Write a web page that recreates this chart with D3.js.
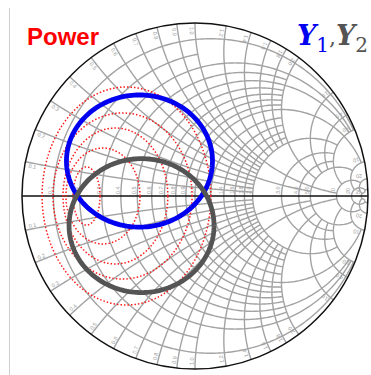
<!DOCTYPE html>
<html>
<head>
<meta charset="utf-8">
<script src="https://cdn.jsdelivr.net/npm/d3@7"></script>
<style>
  html, body { margin: 0; padding: 0; background: #fff; }
  svg { display: block; }
</style>
</head>
<body>
<svg id="chart" width="371" height="375"></svg>
<script>
// ---- Smith chart grid: labelled resistance / reactance values ----
const resistanceValues = [0.1, 0.2, 0.3, 0.4, 0.5, 0.6, 0.7, 0.8, 0.9, 1.0, 1.2, 1.4, 1.6, 1.8, 2.0, 3.0, 4.0, 5.0, 10, 20, 50];
// how far (in |x|) each resistance circle is drawn
const resistanceReach = [5, 1, 5, 2, 5, 2, 2, 2, 2, 10, 2, 2, 2, 2, 5, 5, 5, 10, 20, 50, 50];
const reactanceValues = [0.1, 0.2, 0.3, 0.4, 0.5, 0.6, 0.7, 0.8, 0.9, 1.0, 1.2, 1.4, 1.6, 1.8, 2.0, 3.0, 4.0, 5.0, 10, 20, 50];
// how far (in r) each reactance arc is drawn
const reactanceReach = [2, 2, 2, 2, 5, 2, 2, 2, 2, 10, 2, 2, 2, 2, 5, 5, 5, 10, 20, 50, 50];
const tickLabels = ["0.1", "0.2", "0.3", "0.4", "0.5", "0.6", "0.7", "0.8", "0.9", "1.0", "1.2", "1.4", "1.6", "1.8", "2.0", "3.0", "4.0", "5.0", "10", "20", "50"];

// ---- Power contours (ellipses in the reflection-coefficient plane) ----
const powerCenterX = [-0.396, -0.419, -0.460, -0.532, -0.627];
const powerCenterY = [0, 0, 0, 0, 0];
const powerRadiusX = [0.488, 0.402, 0.303, 0.214, 0.078];
const powerRadiusY = [0.630, 0.480, 0.393, 0.277, 0.168];

// ---- Y1 and Y2 loci ----
const locusNames = ["Y1", "Y2"];
const locusCenterX = [-0.321, -0.309];
const locusCenterY = [0.202, -0.171];
const locusRadiusX = [0.422, 0.419];
const locusRadiusY = [0.382, 0.387];

const W = 371, H = 375;
const cx = 195, cy = 196, R = 173;
const svg = d3.select("#chart");
svg.append("rect").attr("width", W).attr("height", H).attr("fill", "#fff");

const gx = d3.scaleLinear().domain([-1, 1]).range([cx - R, cx + R]);
const gy = d3.scaleLinear().domain([-1, 1]).range([cy + R, cy - R]);
const line = d3.line().x(d => gx(d[0])).y(d => gy(d[1]));

// z = r + jx  ->  Gamma = (z - 1) / (z + 1)
function gamma(r, x) {
  const den = (r + 1) * (r + 1) + x * x;
  return [((r - 1) * (r + 1) + x * x) / den, (2 * x) / den];
}
function sampleAtan(a, b, n) {
  const ta = Math.atan(a), tb = Math.atan(b);
  return d3.range(n + 1).map(i => Math.tan(ta + (tb - ta) * i / n));
}

const grid = svg.append("g").attr("fill", "none").attr("stroke", "#a3a3a3").attr("stroke-width", 1.4);

// constant-resistance circles (clipped at a reactance)
resistanceValues.forEach((r, i) => {
  const xm = resistanceReach[i];
  const pts = sampleAtan(-xm, xm, 300).map(x => gamma(r, x));
  grid.append("path").attr("d", line(pts));
});
// constant-reactance arcs (clipped at a resistance), both signs
reactanceValues.forEach((x, i) => {
  const rm = reactanceReach[i];
  [1, -1].forEach(s => {
    const pts = sampleAtan(0, rm, 300).map(r => gamma(r, s * x));
    grid.append("path").attr("d", line(pts));
  });
});

// tick labels along the real axis
const lab = svg.append("g").attr("font-family", "Liberation Sans, Arial, sans-serif")
  .attr("font-size", 5.5).attr("fill", "#9a9a9a");
resistanceValues.forEach((r, i) => {
  const p = gamma(r, 0);
  lab.append("text")
    .attr("transform", `translate(${gx(p[0]) - 1.2},${cy - 2}) rotate(-90)`)
    .attr("text-anchor", "start")
    .text(tickLabels[i]);
});
// tick labels along the rim
reactanceValues.forEach((x, i) => {
  if (x >= 50) return;
  [1, -1].forEach(s => {
    const th = Math.PI - 2 * Math.atan(x);
    const a = s * (th + 0.02);
    const rr = 0.955;
    const px = gx(rr * Math.cos(a)), py = gy(rr * Math.sin(a));
    const deg = -a * 180 / Math.PI;
    lab.append("text")
      .attr("transform", `translate(${px},${py}) rotate(${deg + 180})`)
      .attr("text-anchor", "middle")
      .attr("dy", "0.35em")
      .text(tickLabels[i]);
  });
});

// outer rim and real axis
svg.append("circle").attr("cx", gx(0)).attr("cy", gy(0)).attr("r", gx(1) - gx(0))
  .attr("fill", "none").attr("stroke", "#111").attr("stroke-width", 1.5);
svg.append("line").attr("x1", gx(-1)).attr("x2", gx(1)).attr("y1", gy(0)).attr("y2", gy(0))
  .attr("stroke", "#111").attr("stroke-width", 1.5);

function ellipsePts(ex, ey, rx, ry) {
  return d3.range(0, 361, 2).map(t => {
    const a = t * Math.PI / 180;
    return [ex + rx * Math.cos(a), ey + ry * Math.sin(a)];
  });
}

// power contours
const pw = svg.append("g").attr("fill", "none").attr("stroke", "#ff1a1a")
  .attr("stroke-width", 1.5).attr("stroke-dasharray", "1.5,2").attr("stroke-linecap", "butt");
powerCenterX.forEach((ex, i) => {
  pw.append("path").attr("d", line(ellipsePts(ex, powerCenterY[i], powerRadiusX[i], powerRadiusY[i])));
});

// Y loci
const locusColors = ["#0000f0", "#545454"];
locusNames.forEach((n, i) => {
  svg.append("path")
    .attr("d", line(ellipsePts(locusCenterX[i], locusCenterY[i], locusRadiusX[i], locusRadiusY[i])))
    .attr("fill", "none").attr("stroke", locusColors[i]).attr("stroke-width", 4.8);
});

// left border line
svg.append("line").attr("x1", 9.5).attr("x2", 9.5).attr("y1", 8).attr("y2", 375)
  .attr("stroke", "#cfcfcf").attr("stroke-width", 1);

// titles
svg.append("text").attr("x", 27).attr("y", 45)
  .attr("font-family", "Liberation Sans, Arial, sans-serif").attr("font-weight", "bold")
  .attr("font-size", 24).attr("fill", "#ff0000").text("Power");

const yt = svg.append("text").attr("x", 297).attr("y", 45)
  .attr("font-family", "DejaVu Serif, serif").attr("font-size", 27);
yt.append("tspan").attr("fill", "#0000f0").attr("font-style", "italic").attr("font-weight", "bold").text("Y");
yt.append("tspan").attr("fill", "#0000f0").attr("font-size", 20).attr("dy", 7).text("1");
yt.append("tspan").attr("fill", "#545454").attr("font-size", 22).attr("dy", -7).text(",");
yt.append("tspan").attr("fill", "#545454").attr("font-style", "italic").attr("font-weight", "bold").text("Y");
yt.append("tspan").attr("fill", "#545454").attr("font-size", 20).attr("dy", 7).text("2");
</script>
</body>
</html>
